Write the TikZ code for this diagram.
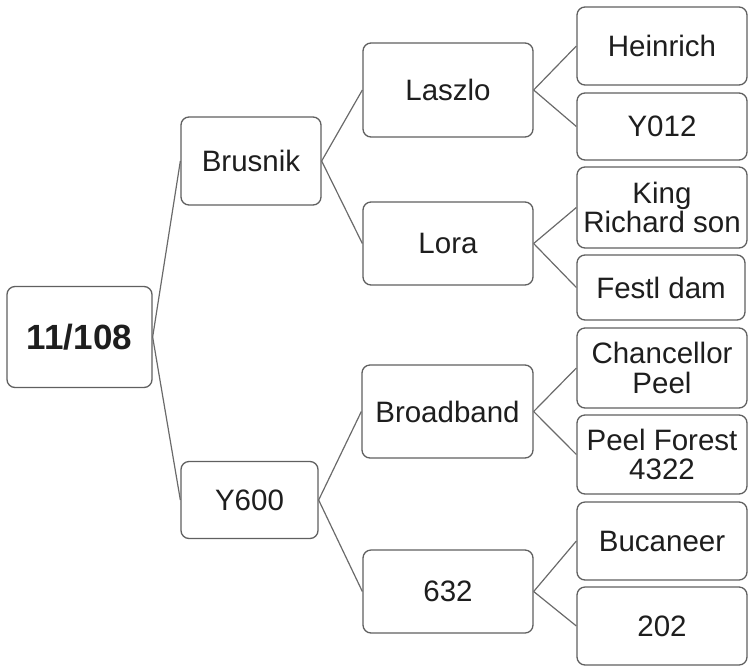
\documentclass[tikz,border=0pt]{standalone}
\usepackage{fontspec}
\setmainfont{Liberation Sans}
\definecolor{boxline}{HTML}{606060}
\definecolor{conn}{HTML}{6A6A6A}
\definecolor{txt}{HTML}{1E1E1E}
\begin{document}
\begin{tikzpicture}[x=1pt,y=-1pt,
  box/.style={draw=boxline,line width=1.3pt,rounded corners=8pt,fill=white,
    text=txt,align=center,inner sep=0pt,
    font=\fontsize{29.5}{29.5}\selectfont},
  link/.style={draw=conn,line width=1.2pt}]
\useasboundingbox (0,0) rectangle (749,670);
\node[box,minimum width=145pt,minimum height=101pt,font=\fontsize{35}{36}\selectfont\bfseries] (root) at (79.5,337) {11/108};
\node[box,minimum width=140pt,minimum height=88pt] (brus) at (251,161) {Brusnik};
\node[box,minimum width=137pt,minimum height=77pt] (y600) at (249.5,500) {Y600};
\node[box,minimum width=170pt,minimum height=94pt] (lasz) at (448,90) {Laszlo};
\node[box,minimum width=170pt,minimum height=83pt] (lora) at (448,243.5) {Lora};
\node[box,minimum width=171pt,minimum height=93pt] (broad) at (447.5,411.5) {Broadband};
\node[box,minimum width=170pt,minimum height=83pt] (n632) at (448,591.5) {632};
\node[box,minimum width=170pt,minimum height=78pt] (hein) at (662,46) {Heinrich};
\node[box,minimum width=170pt,minimum height=67pt] (y012) at (662,126.5) {Y012};
\node[box,minimum width=170pt,minimum height=81pt] (king) at (662,207.5) {King\\Richard son};
\node[box,minimum width=168pt,minimum height=65pt] (festl) at (661,287.5) {Festl dam};
\node[box,minimum width=170pt,minimum height=80pt] (chan) at (662,368) {Chancellor\\Peel};
\node[box,minimum width=170pt,minimum height=79pt] (peel) at (662,454.5) {Peel Forest\\4322};
\node[box,minimum width=170pt,minimum height=78pt] (buc) at (662,541) {Bucaneer};
\node[box,minimum width=170pt,minimum height=78pt] (n202) at (662,626) {202};
\draw[link] (root.east) -- (brus.west);
\draw[link] (root.east) -- (y600.west);
\draw[link] (brus.east) -- (lasz.west);
\draw[link] (brus.east) -- (lora.west);
\draw[link] (y600.east) -- (broad.west);
\draw[link] (y600.east) -- (n632.west);
\draw[link] (lasz.east) -- (hein.west);
\draw[link] (lasz.east) -- (y012.west);
\draw[link] (lora.east) -- (king.west);
\draw[link] (lora.east) -- (festl.west);
\draw[link] (broad.east) -- (chan.west);
\draw[link] (broad.east) -- (peel.west);
\draw[link] (n632.east) -- (buc.west);
\draw[link] (n632.east) -- (n202.west);
\end{tikzpicture}
\end{document}
